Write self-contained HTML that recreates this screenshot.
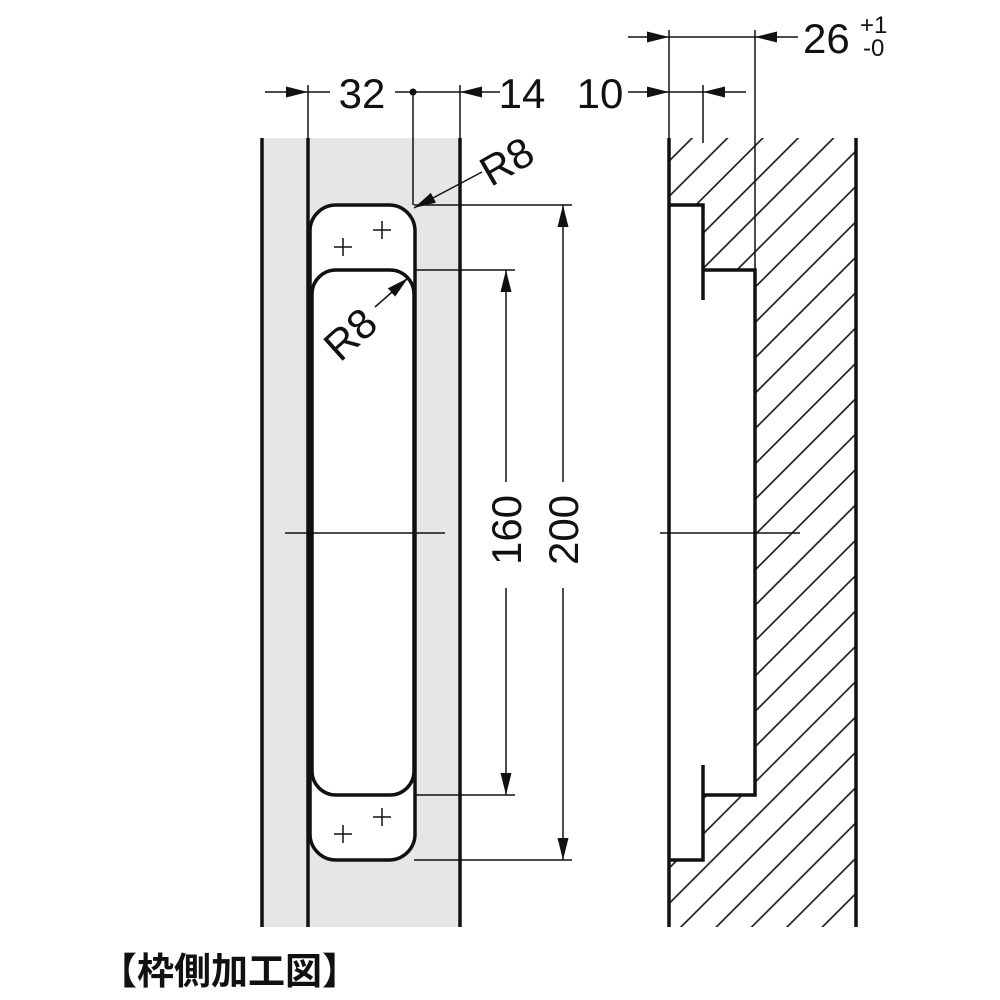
<!DOCTYPE html>
<html><head><meta charset="utf-8"><style>
html,body{margin:0;padding:0;background:#fff;}
svg{display:block}
text{font-family:"Liberation Sans",Arial,sans-serif;fill:#111}
</style></head><body>
<svg width="1000" height="1000" viewBox="0 0 1000 1000" xmlns="http://www.w3.org/2000/svg">
<defs>
<pattern id="h" patternUnits="userSpaceOnUse" width="25" height="25" patternTransform="rotate(45)">
<line x1="12" y1="0" x2="12" y2="25" stroke="#111" stroke-width="1.6"/>
</pattern>
<marker id="a" viewBox="0 0 20 10" refX="20" refY="5" markerWidth="22" markerHeight="11" markerUnits="userSpaceOnUse" orient="auto"><path d="M0,0L20,5L0,10Z" fill="#111"/></marker>
</defs>
<rect x="262" y="138" width="198" height="789" fill="#e6e6e6"/>
<g stroke="#111" stroke-width="3.5" fill="none">
<line x1="262" y1="138" x2="262" y2="927"/>
<line x1="308" y1="138" x2="308" y2="927"/>
<line x1="460" y1="138" x2="460" y2="927"/>
</g>
<rect x="310" y="205" width="105" height="655" rx="26" fill="#fff" stroke="#111" stroke-width="3.5"/>
<rect x="312" y="270" width="102" height="525" rx="24" fill="#fff" stroke="#111" stroke-width="3.5"/>
<g stroke="#111" stroke-width="1.5">
<line x1="334" y1="247" x2="352" y2="247"/><line x1="343" y1="238" x2="343" y2="256"/>
<line x1="373" y1="230" x2="391" y2="230"/><line x1="382" y1="221" x2="382" y2="239"/>
<line x1="334" y1="834" x2="352" y2="834"/><line x1="343" y1="825" x2="343" y2="843"/>
<line x1="373" y1="817" x2="391" y2="817"/><line x1="382" y1="808" x2="382" y2="826"/>
</g>
<g stroke="#111" stroke-width="1.5" fill="none">
<line x1="308" y1="85" x2="308" y2="138"/>
<line x1="460" y1="85" x2="460" y2="138"/>
<line x1="413" y1="92" x2="413" y2="205"/>
<line x1="285" y1="533" x2="445" y2="533"/>
<line x1="265" y1="92" x2="308" y2="92" marker-end="url(#a)"/>
<line x1="308" y1="92" x2="330" y2="92"/>
<line x1="395" y1="92" x2="460" y2="92"/>
<line x1="500" y1="92" x2="460" y2="92" marker-end="url(#a)"/>
<line x1="414" y1="270" x2="515" y2="270"/>
<line x1="414" y1="795" x2="515" y2="795"/>
<line x1="414" y1="205" x2="572" y2="205"/>
<line x1="414" y1="860" x2="572" y2="860"/>
<line x1="506" y1="482" x2="506" y2="270" marker-end="url(#a)"/>
<line x1="506" y1="588" x2="506" y2="795" marker-end="url(#a)"/>
<line x1="563" y1="482" x2="563" y2="205" marker-end="url(#a)"/>
<line x1="563" y1="588" x2="563" y2="860" marker-end="url(#a)"/>
<line x1="482" y1="172" x2="414" y2="208" marker-end="url(#a)"/>
<line x1="375" y1="307" x2="408" y2="278" marker-end="url(#a)"/>
</g>
<circle cx="413" cy="92" r="3.5" fill="#111"/>
<text x="362" y="108" font-size="42" text-anchor="middle">32</text>
<text x="522" y="108" font-size="42" text-anchor="middle">14</text>
<text x="600" y="108" font-size="42" text-anchor="middle">10</text>
<text transform="translate(521,530) rotate(-90)" font-size="42" text-anchor="middle">160</text>
<text transform="translate(578,530) rotate(-90)" font-size="42" text-anchor="middle">200</text>
<text transform="translate(514,174) rotate(-30)" font-size="42" text-anchor="middle">R8</text>
<text transform="translate(360,345) rotate(-42)" font-size="42" text-anchor="middle">R8</text>
<path d="M669,138 H856 V927 H669 Z M669,205 V860 H703 V795 H755 V270 H703 V205 Z" fill="url(#h)" fill-rule="evenodd"/>
<g stroke="#111" stroke-width="3.5" fill="none">
<line x1="669" y1="138" x2="669" y2="927"/>
<line x1="856" y1="138" x2="856" y2="927"/>
<path d="M669,205 H703 V300"/>
<path d="M703,270 H755 V795 H703"/>
<path d="M703,765 V860 H669"/>
</g>
<g stroke="#111" stroke-width="1.5" fill="none">
<line x1="669" y1="30" x2="669" y2="138"/>
<line x1="755" y1="30" x2="755" y2="270"/>
<line x1="703" y1="85" x2="703" y2="143"/>
<line x1="628" y1="37" x2="669" y2="37" marker-end="url(#a)"/>
<line x1="669" y1="37" x2="755" y2="37"/>
<line x1="798" y1="37" x2="755" y2="37" marker-end="url(#a)"/>
<line x1="628" y1="92" x2="669" y2="92" marker-end="url(#a)"/>
<line x1="669" y1="92" x2="703" y2="92"/>
<line x1="746" y1="92" x2="703" y2="92" marker-end="url(#a)"/>
<line x1="660" y1="533" x2="800" y2="533"/>
</g>
<text x="803" y="53" font-size="42">26</text>
<text x="860" y="33" font-size="24">+1</text>
<text x="863" y="56" font-size="24">-0</text>
<text x="100" y="984" font-size="37" font-weight="bold" style="font-family:'Liberation Sans','Noto Sans CJK JP',sans-serif">【枠側加工図】</text>
</svg>
</body></html>
